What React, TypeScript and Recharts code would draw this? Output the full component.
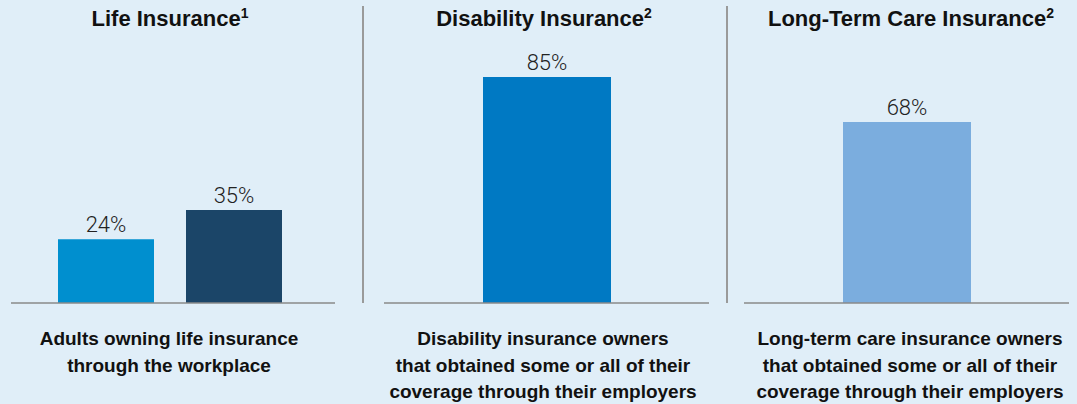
import React from "react";
import { BarChart, Bar, XAxis, YAxis, Cell, LabelList } from "recharts";

const lifeCategories = ["Life A", "Life B"];
const lifeValues = [24, 35];
const disabilityCategories = ["Disability"];
const disabilityValues = [85];
const ltcCategories = ["Long-Term Care"];
const ltcValues = [68];

const panelTitles = ["Life Insurance", "Disability Insurance", "Long-Term Care Insurance"];
const panelNotes = ["1", "2", "2"];
const panelCaptions = [
  ["Adults owning life insurance", "through the workplace"],
  ["Disability insurance owners", "that obtained some or all of their", "coverage through their employers"],
  ["Long-term care insurance owners", "that obtained some or all of their", "coverage through their employers"],
];

const lifeColors = ["#008fcf", "#1b4568"];
const disabilityColors = ["#0079c3"];
const ltcColors = ["#7badde"];

const BG = "#e0eef8";
const FONT = "'Liberation Sans', Arial, sans-serif";

function build(cats: string[], vals: number[]) {
  return cats.map((c, i) => ({ name: c, value: vals[i] }));
}

type PanelProps = {
  left: number;
  width: number;
  data: { name: string; value: number }[];
  colors: string[];
  barSize: number;
  padding: { left: number; right: number };
};

function Panel({ left, width, data, colors, barSize, padding }: PanelProps) {
  return (
    <div style={{ position: "absolute", left, top: 0 }}>
      <BarChart
        width={width}
        height={310}
        data={data}
        margin={{ top: 37, right: 0, left: 0, bottom: 0 }}
      >
        <XAxis
          dataKey="name"
          height={7}
          tick={false}
          tickLine={false}
          axisLine={{ stroke: "#8a8a8a", strokeWidth: 1.5 }}
          padding={padding}
        />
        <YAxis hide domain={[0, 100]} />
        <Bar dataKey="value" barSize={barSize} isAnimationActive={false}>
          {data.map((d, i) => (
            <Cell key={d.name} fill={colors[i]} />
          ))}
          <LabelList
            dataKey="value"
            position="top"
            offset={7}
            formatter={(v: number) => `${v}%`}
            style={{ fontSize: 22, fill: "#222222", fontFamily: "Roboto, sans-serif", fontWeight: 300 }}
          />
        </Bar>
      </BarChart>
    </div>
  );
}

export default function App() {
  const titleX = [170, 544, 911];
  const captionX = [169, 543, 910];
  return (
    <div style={{ position: "absolute", left: 0, top: 0, width: 1077, height: 404, background: BG, overflow: "hidden" }}>
      <Panel left={11} width={324} data={build(lifeCategories, lifeValues)} colors={lifeColors} barSize={96} padding={{ left: 31, right: 37 }} />
      <Panel left={384} width={325} data={build(disabilityCategories, disabilityValues)} colors={disabilityColors} barSize={128} padding={{ left: 0, right: 0 }} />
      <Panel left={744} width={325} data={build(ltcCategories, ltcValues)} colors={ltcColors} barSize={128} padding={{ left: 0, right: 0 }} />
      <svg width={1077} height={404} style={{ position: "absolute", left: 0, top: 0, pointerEvents: "none" }}>
        <line x1={363} y1={6} x2={363} y2={303} stroke="#9a9a9a" strokeWidth={2} />
        <line x1={727} y1={6} x2={727} y2={303} stroke="#9a9a9a" strokeWidth={2} />
        {panelTitles.map((t, i) => (
          <text key={t} x={titleX[i]} y={26} textAnchor="middle" fontFamily={FONT} fontWeight="bold" fontSize={22} fill="#111111">
            {t}
            <tspan fontSize={14} dy={-8}>{panelNotes[i]}</tspan>
          </text>
        ))}
        {panelCaptions.map((lines, i) =>
          lines.map((l, j) => (
            <text key={`${i}-${j}`} x={captionX[i]} y={345 + j * 26.5} textAnchor="middle" fontFamily={FONT} fontWeight="bold" fontSize={19} fill="#111111">
              {l}
            </text>
          ))
        )}
      </svg>
    </div>
  );
}
